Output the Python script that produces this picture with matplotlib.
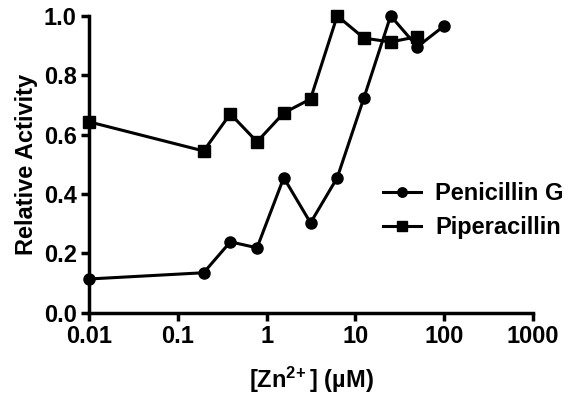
import matplotlib
matplotlib.use("Agg")
import matplotlib.pyplot as plt
from matplotlib.ticker import FixedLocator, NullLocator

plt.rcParams["font.family"] = ["Liberation Sans", "DejaVu Sans"]
plt.rcParams["font.weight"] = "bold"
plt.rcParams["mathtext.default"] = "bf"
plt.rcParams["mathtext.fontset"] = "custom"
plt.rcParams["mathtext.bf"] = "Liberation Sans:bold"

# zinc concentrations (uM), 0.01 stands in for no zinc
zn_pen = [0.01, 0.195, 0.39, 0.78, 1.56, 3.125, 6.25, 12.5, 25, 50, 100]
act_pen = [0.114, 0.135, 0.239, 0.219, 0.455, 0.303, 0.455, 0.724, 1.0, 0.896, 0.966]

zn_pip = [0.01, 0.195, 0.39, 0.78, 1.56, 3.125, 6.25, 12.5, 25, 50]
act_pip = [0.643, 0.545, 0.670, 0.576, 0.673, 0.720, 1.0, 0.925, 0.912, 0.93]

x_ticks = [0.01, 0.1, 1, 10, 100, 1000]
x_labels = ["0.01", "0.1", "1", "10", "100", "1000"]
y_ticks = [0.0, 0.2, 0.4, 0.6, 0.8, 1.0]

fig = plt.figure(figsize=(5.68, 3.96), dpi=100)
ax = fig.add_axes([0.157, 0.21, 0.781, 0.75])

ax.plot(zn_pen, act_pen, "-o", color="black", lw=2.2, ms=8, label="Penicillin G",
        clip_on=False, zorder=3)
ax.plot(zn_pip, act_pip, "-s", color="black", lw=2.2, ms=8, label="Piperacillin",
        clip_on=False, zorder=3)

ax.set_xscale("log")
ax.set_xlim(0.01, 1000)
ax.set_ylim(0, 1.0)
ax.xaxis.set_major_locator(FixedLocator(x_ticks))
ax.xaxis.set_minor_locator(NullLocator())
ax.set_xticks(x_ticks, x_labels)
ax.set_yticks(y_ticks, [f"{v:.1f}" for v in y_ticks])

for s in ["top", "right"]:
    ax.spines[s].set_visible(False)
for s in ["left", "bottom"]:
    ax.spines[s].set_linewidth(2.5)
ax.tick_params(width=2.5, length=6, labelsize=17, pad=3)

ax.set_xlabel("[Zn$^{2\\!+}$] (µM)", fontsize=17, fontweight="bold", labelpad=12)
ax.set_ylabel("Relative Activity", fontsize=17, fontweight="bold", labelpad=4)

fig.legend(loc="upper left", bbox_to_anchor=(0.675, 0.54), frameon=False,
           fontsize=17, handlelength=1.6, handletextpad=0.6, labelspacing=0.46,
           borderaxespad=0, borderpad=0, markerscale=0.85)

fig.savefig("out.png", dpi=100)
